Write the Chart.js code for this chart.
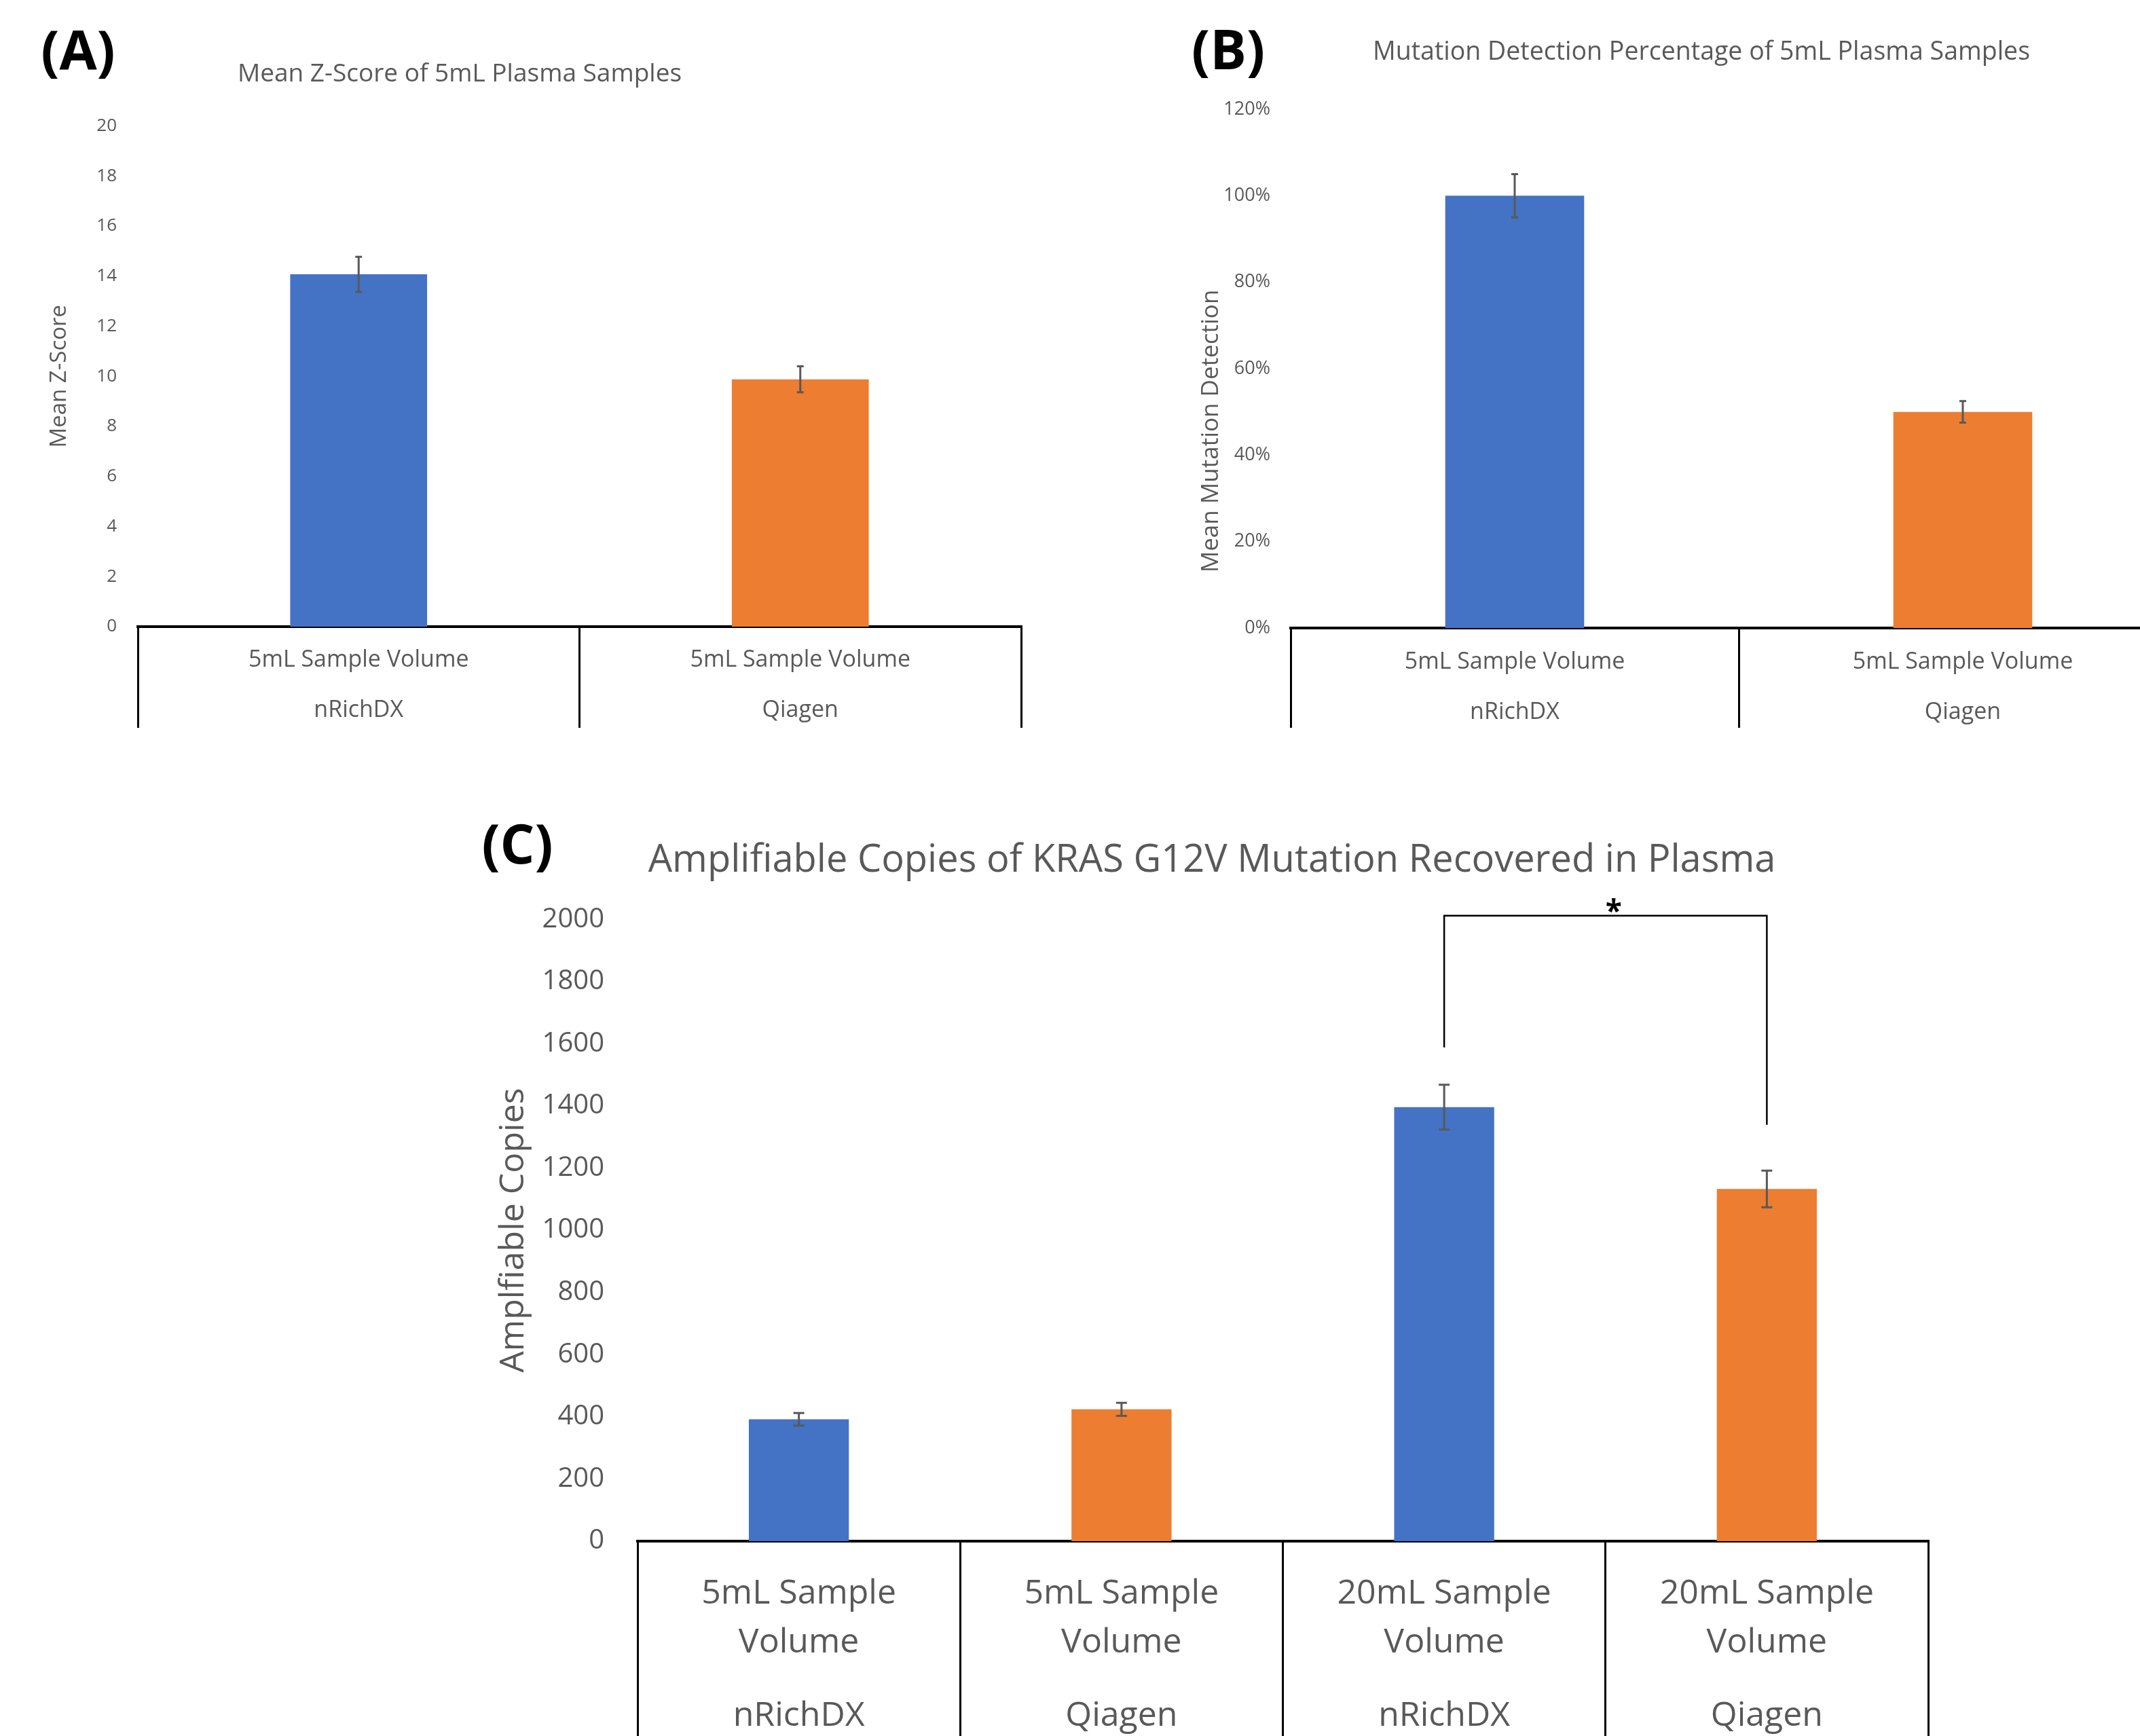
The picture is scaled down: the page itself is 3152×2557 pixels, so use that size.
<!DOCTYPE html>
<html>
<head>
<meta charset="utf-8">
<script src="https://cdn.jsdelivr.net/npm/chart.js@4.4.1/dist/chart.umd.min.js"></script>
<style>
  html, body { margin: 0; padding: 0; background: #fff; }
  body { width: 3152px; height: 2557px; overflow: hidden; position: relative; }
  canvas { position: absolute; }
  #chartA { left: -150px; top: 0; }
  #chartB { left: 1700px; top: 0; }
  #chartC { left: 690px; top: 1180px; }
</style>
</head>
<body>
<canvas id="chartA" width="1660" height="1072"></canvas>
<canvas id="chartB" width="1527" height="1072"></canvas>
<canvas id="chartC" width="2156" height="1377"></canvas>
<script>
// data
const volumes5 = ['5mL Sample Volume', '5mL Sample Volume'];
const kits2 = ['nRichDX', 'Qiagen'];

const zscoreMean = [14.07, 9.88];
const zscoreErr = [0.70, 0.52];

const detectMean = [100, 50];
const detectErr = [5, 2.5];

const volumesC = [['5mL Sample', 'Volume'], ['5mL Sample', 'Volume'], ['20mL Sample', 'Volume'], ['20mL Sample', 'Volume']];
const kits4 = ['nRichDX', 'Qiagen', 'nRichDX', 'Qiagen'];
const copiesMean = [392, 424, 1396, 1133];
const copiesErr = [20, 21, 72, 59];

// significance bracket between bar 3 and 4 (top, left end, right end in copies)
const sigPair = [2, 3];
const sigLevels = [2012, 1588, 1339];

const BLUE = '#4472C4';
const ORANGE = '#ED7D31';
const GREY = '#595959';

Chart.defaults.font.family = "'Open Sans', sans-serif";
Chart.defaults.color = GREY;

// error bars on top of the bars
const errorBars = {
  id: 'errorBars',
  afterDatasetsDraw(chart, args, opts) {
    const ctx = chart.ctx;
    const y = chart.scales.y;
    const vals = chart.data.datasets[0].data;
    ctx.save();
    ctx.strokeStyle = opts.color;
    ctx.lineWidth = opts.width;
    chart.getDatasetMeta(0).data.forEach((bar, i) => {
      const hi = y.getPixelForValue(vals[i] + opts.errors[i]);
      const lo = y.getPixelForValue(vals[i] - opts.errors[i]);
      ctx.beginPath();
      ctx.moveTo(bar.x, hi); ctx.lineTo(bar.x, lo);
      ctx.moveTo(bar.x - opts.cap, hi); ctx.lineTo(bar.x + opts.cap, hi);
      ctx.moveTo(bar.x - opts.cap, lo); ctx.lineTo(bar.x + opts.cap, lo);
      ctx.stroke();
    });
    ctx.restore();
  }
};

// loose text: panel letters and the odd axis title
const panelText = {
  id: 'panelText',
  afterDraw(chart, args, opts) {
    const ctx = chart.ctx;
    (opts.items || []).forEach(it => {
      ctx.save();
      ctx.translate(it.x, it.y);
      if (it.rotate) ctx.rotate(it.rotate);
      ctx.font = it.font;
      ctx.fillStyle = it.color;
      ctx.textAlign = 'center';
      ctx.textBaseline = 'middle';
      ctx.fillText(it.text, 0, 0);
      ctx.restore();
    });
  }
};

// bracket with star
const sigBracket = {
  id: 'sigBracket',
  afterDatasetsDraw(chart, args, opts) {
    if (!opts.pair) return;
    const ctx = chart.ctx;
    const x = chart.scales.x, y = chart.scales.y;
    const x1 = x.getPixelForValue(opts.pair[0]);
    const x2 = x.getPixelForValue(opts.pair[1]);
    const yt = y.getPixelForValue(opts.levels[0]);
    ctx.save();
    ctx.strokeStyle = '#000';
    ctx.lineWidth = 2.5;
    ctx.beginPath();
    ctx.moveTo(x1, y.getPixelForValue(opts.levels[1]));
    ctx.lineTo(x1, yt);
    ctx.lineTo(x2, yt);
    ctx.lineTo(x2, y.getPixelForValue(opts.levels[2]));
    ctx.stroke();
    ctx.fillStyle = '#000';
    ctx.font = "bold 44px 'Open Sans', sans-serif";
    ctx.textAlign = 'center';
    ctx.textBaseline = 'alphabetic';
    ctx.fillText(opts.label, (x1 + x2) / 2 + 12, yt + 8);
    ctx.restore();
  }
};

function create_bar_chart(elementId, s) {
  return new Chart(document.getElementById(elementId), {
    type: 'bar',
    data: {
      labels: s.labels,
      datasets: [{
        data: s.values,
        backgroundColor: s.colors,
        barPercentage: 0.31,
        categoryPercentage: 1
      }]
    },
    options: {
      responsive: false,
      animation: false,
      layout: { padding: s.padding },
      plugins: {
        legend: { display: false },
        tooltip: { enabled: false },
        title: {
          display: true,
          text: s.title,
          color: GREY,
          font: { size: s.titleSize, weight: 'normal', lineHeight: 1.2 },
          padding: s.titlePadding
        },
        errorBars: { errors: s.errors, color: GREY, width: 3, cap: s.cap },
        panelText: { items: s.texts },
        sigBracket: s.bracket || {}
      },
      scales: {
        x: {
          grid: {
            display: true, offset: true, drawOnChartArea: false, drawTicks: true,
            tickLength: s.xHeight, color: '#000', lineWidth: 3
          },
          border: { display: true, color: '#000', width: 4 },
          ticks: {
            color: GREY,
            font: { size: s.labelSize, lineHeight: s.labelLine },
            padding: s.labelGap - s.xHeight,
            maxRotation: 0, minRotation: 0, autoSkip: false
          },
          afterFit: sc => { sc.height = s.xHeight; }
        },
        y: {
          min: 0,
          max: s.yMax,
          grid: { display: false, drawTicks: false },
          border: { display: false },
          ticks: {
            stepSize: s.yStep,
            color: GREY,
            font: { size: s.tickSize },
            padding: s.tickPad,
            callback: s.tickFmt || (v => v)
          },
          title: s.yTitle ? {
            display: true, text: s.yTitle, color: GREY,
            font: { size: s.yTitleSize, lineHeight: 1.2 },
            padding: { top: s.yTitlePad, bottom: 0 }
          } : { display: false },
          afterFit: sc => { sc.width = s.yWidth; }
        }
      }
    },
    plugins: [errorBars, panelText, sigBracket]
  });
}

const chartA = create_bar_chart('chartA', {
  labels: volumes5.map((v, i) => [v, kits2[i]]),
  values: zscoreMean,
  errors: zscoreErr,
  colors: [BLUE, ORANGE],
  title: 'Mean Z-Score of 5mL Plasma Samples',
  titleSize: 37,
  titlePadding: { top: 87, bottom: 54 },
  padding: { left: 0, right: 6, top: 0, bottom: 0 },
  xHeight: 149, labelSize: 34, labelLine: 74 / 34, labelGap: 12,
  yMax: 20, yStep: 2, tickSize: 26, tickPad: 31,
  yTitle: 'Mean Z-Score', yTitleSize: 33, yTitlePad: 218,
  yWidth: 353, cap: 5,
  texts: [{ text: '(A)', x: 265, y: 80, font: "bold 80px 'Open Sans', sans-serif", color: '#000' }]
});

const chartB = create_bar_chart('chartB', {
  labels: volumes5.map((v, i) => [v, kits2[i]]),
  values: detectMean,
  errors: detectErr,
  colors: [BLUE, ORANGE],
  title: 'Mutation Detection Percentage of 5mL Plasma Samples',
  titleSize: 37.5,
  titlePadding: { top: 55, bottom: 61 },
  padding: { left: 91, right: 6, top: 0, bottom: 0 },
  xHeight: 147, labelSize: 34, labelLine: 74 / 34, labelGap: 13,
  yMax: 120, yStep: 20, tickSize: 27, tickPad: 30,
  tickFmt: v => v + '%',
  yWidth: 110, cap: 5,
  texts: [
    { text: '(B)', x: 109, y: 79, font: "bold 80px 'Open Sans', sans-serif", color: '#000' },
    { text: 'Mean Mutation Detection', x: 84, y: 635, rotate: -Math.PI / 2, font: "35px 'Open Sans', sans-serif", color: GREY }
  ]
});

const chartC = create_bar_chart('chartC', {
  labels: volumesC.map((v, i) => [v[0], '', v[1], '', '', kits4[i]]),
  values: copiesMean,
  errors: copiesErr,
  colors: [BLUE, ORANGE, BLUE, ORANGE],
  title: 'Amplifiable Copies of KRAS G12V Mutation Recovered in Plasma',
  titleSize: 56,
  titlePadding: { top: 54, bottom: 53 },
  padding: { left: 40, right: 6, top: 0, bottom: 0 },
  xHeight: 287, labelSize: 50, labelLine: 36 / 50, labelGap: 60,
  yMax: 2000, yStep: 200, tickSize: 40, tickPad: 49,
  yTitle: 'Amplfiable Copies', yTitleSize: 50, yTitlePad: -3,
  yWidth: 209, cap: 8,
  bracket: { pair: sigPair, levels: sigLevels, label: '*' },
  texts: [{ text: '(C)', x: 72, y: 69, font: "bold 80px 'Open Sans', sans-serif", color: '#000' }]
});
</script>
</body>
</html>
